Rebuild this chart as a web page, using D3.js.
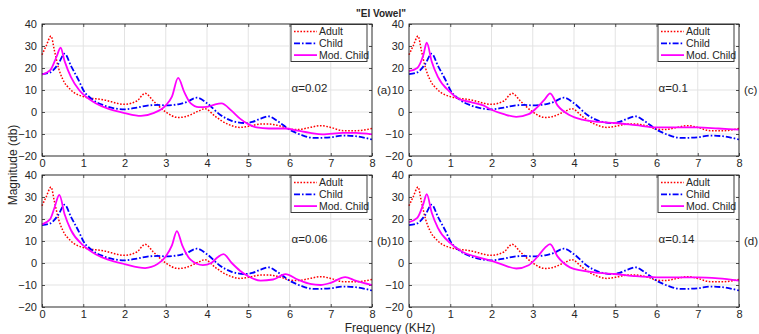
<!DOCTYPE html>
<html>
<head>
<meta charset="utf-8">
<script src="https://cdn.jsdelivr.net/npm/d3@7"></script>
<style>
  body { margin: 0; background: #fff; }
  text { font-family: "Liberation Sans", Arial, sans-serif; fill: #262626; }
  .tick text { font-size: 11px; }
</style>
</head>
<body>
<div id="chart"></div>
<script>
// frequency (KHz), magnitude (db)
const adult = [[0,26],[0.1,30],[0.22,34.5],[0.3,28],[0.4,20],[0.5,15],[0.7,10],[1.0,7],[1.5,5.5],[2.0,3.5],[2.3,5],[2.5,8.5],[2.7,5],[3.0,0],[3.3,-2.5],[3.5,-2],[3.8,0.5],[3.95,1.5],[4.2,-2],[4.5,-5.5],[4.8,-7],[5.0,-6.5],[5.3,-5.5],[5.5,-5.5],[5.8,-6.5],[6.0,-7.8],[6.2,-8],[6.5,-7],[6.75,-6.2],[7.0,-7],[7.3,-8.5],[7.6,-8.5],[8.0,-7.5]];
const child = [[0,17.2],[0.2,18],[0.4,22],[0.55,26.5],[0.7,21],[0.9,14],[1.0,10],[1.2,6],[1.5,3],[1.8,1.5],[2.0,1.2],[2.3,2],[2.6,3],[2.8,3.2],[3.0,3],[3.3,3.5],[3.5,4.5],[3.75,6.5],[4.0,4],[4.3,-1],[4.6,-4],[4.9,-5],[5.1,-4.5],[5.3,-3],[5.5,-2],[5.7,-4],[6.0,-8],[6.3,-10.5],[6.6,-11.8],[7.0,-11.5],[7.3,-10.7],[7.6,-11],[8.0,-12.5]];
const modChildA = [[0,17],[0.2,19],[0.35,25],[0.45,29.2],[0.55,23],[0.7,16],[0.9,10],[1.0,8],[1.3,4],[1.6,1.5],[2.0,-0.5],[2.4,-1.8],[2.7,-0.5],[3.0,3],[3.15,7],[3.3,15.5],[3.45,9],[3.6,4],[3.8,2.2],[4.0,2.3],[4.2,3.5],[4.35,3.9],[4.6,0.5],[4.8,-3],[5.0,-5.5],[5.2,-7],[5.5,-7.5],[5.9,-7.5],[6.2,-8.5],[6.5,-9.5],[6.8,-10.2],[7.3,-9.5],[7.6,-9.5],[8.0,-10.2]];
const modChildB = [[0,17.6],[0.2,20],[0.3,25],[0.42,31],[0.55,22],[0.7,15],[1.0,8],[1.3,4],[1.6,1.5],[2.0,-0.5],[2.5,-2.3],[2.8,-0.5],[3.0,3],[3.15,8],[3.27,14.5],[3.4,8],[3.6,1.5],[3.9,-1],[4.1,0],[4.25,2.5],[4.4,4],[4.6,0],[4.8,-3.5],[5.0,-6],[5.3,-8],[5.6,-7.5],[5.9,-5.1],[6.2,-7.5],[6.5,-9.5],[6.75,-10],[7.0,-9],[7.35,-6.4],[7.6,-8],[8.0,-10]];
const modChildC = [[0,18.6],[0.2,20],[0.35,26],[0.43,31.5],[0.55,23],[0.7,16],[1.0,9],[1.2,6],[1.5,4.5],[1.8,3],[2.0,1],[2.3,-1],[2.6,-2.2],[2.9,-1],[3.1,2],[3.3,6],[3.42,8.5],[3.6,3],[3.9,-1.5],[4.2,-3.5],[4.6,-4.5],[5.0,-5],[5.5,-6],[6.0,-7],[6.5,-7],[7.0,-7],[7.5,-7.5],[8.0,-8]];
const modChildD = [[0,18.6],[0.2,20.5],[0.35,27],[0.43,31.3],[0.55,23],[0.7,16],[1.0,9],[1.3,5],[1.6,3],[2.0,1],[2.3,-1],[2.6,-2.5],[2.9,-1],[3.1,2.5],[3.3,7],[3.42,8.6],[3.6,3],[3.9,-2],[4.2,-3.5],[4.6,-4.5],[5.0,-5],[5.5,-6],[6.0,-6.5],[6.5,-6.5],[7.0,-6.5],[7.5,-7],[8.0,-8]];

const panelTags = ['(a)', '(c)', '(b)', '(d)'];
const alphaLabels = ['\u03b1=0.02', '\u03b1=0.1', '\u03b1=0.06', '\u03b1=0.14'];
const modChild = [modChildA, modChildC, modChildB, modChildD];
const seriesNames = ['Adult', 'Child', 'Mod. Child'];
const xTicks = [0, 1, 2, 3, 4, 5, 6, 7, 8];
const yTicks = [-20, -10, 0, 10, 20, 30, 40];

const width = 759;
const height = 334;
const panelW = 330;
const panelH = 132;
const colX = [42, 409];
const rowY = [24, 175];

const styles = [
  {color: '#ff0000', dash: '1.6,1.6', w: 1.5},
  {color: '#0000ff', dash: '6,2,1.6,2', w: 1.8},
  {color: '#ff00ff', dash: null, w: 1.8}
];

const svg = d3.select('#chart').append('svg')
  .attr('width', width)
  .attr('height', height);

const xScale = d3.scaleLinear().domain([0, 8]).range([0, panelW]);
const yScale = d3.scaleLinear().domain([-20, 40]).range([panelH, 0]);
const line = d3.line()
  .x(d => xScale(d[0]))
  .y(d => yScale(d[1]))
  .curve(d3.curveMonotoneX);

panelTags.forEach(function (tag, i) {
  const px = colX[i % 2];
  const py = rowY[Math.floor(i / 2)];
  const g = svg.append('g').attr('transform', `translate(${px},${py})`);

  // grid
  g.selectAll('.gx').data(xTicks).enter().append('line')
    .attr('x1', d => xScale(d)).attr('x2', d => xScale(d))
    .attr('y1', 0).attr('y2', panelH)
    .attr('stroke', '#e3e3e3').attr('stroke-width', 1);
  g.selectAll('.gy').data(yTicks).enter().append('line')
    .attr('x1', 0).attr('x2', panelW)
    .attr('y1', d => yScale(d)).attr('y2', d => yScale(d))
    .attr('stroke', '#e3e3e3').attr('stroke-width', 1);

  const xAxis = d3.axisBottom(xScale).tickValues(xTicks).tickSize(-3).tickPadding(3).tickFormat(d3.format('d'));
  const yAxis = d3.axisLeft(yScale).tickValues(yTicks).tickSize(-3).tickPadding(5).tickFormat(d3.format('d'));
  g.append('g').attr('transform', `translate(0,${panelH})`).call(xAxis);
  g.append('g').call(yAxis);
  g.append('g').call(d3.axisTop(xScale).tickValues(xTicks).tickSize(-3).tickFormat(''));
  g.append('g').attr('transform', `translate(${panelW},0)`)
    .call(d3.axisRight(yScale).tickValues(yTicks).tickSize(-3).tickFormat(''));
  g.selectAll('.domain').remove();
  g.selectAll('.tick line').attr('stroke', '#262626').attr('stroke-width', 0.8);

  const sets = [adult, child, modChild[i]];
  sets.forEach(function (data, k) {
    g.append('path')
      .datum(data)
      .attr('d', line)
      .attr('fill', 'none')
      .attr('stroke', styles[k].color)
      .attr('stroke-width', styles[k].w)
      .attr('stroke-dasharray', styles[k].dash);
  });

  g.append('rect')
    .attr('width', panelW).attr('height', panelH)
    .attr('fill', 'none').attr('stroke', '#262626').attr('stroke-width', 0.9);

  // legend
  const lw = 76, lh = 37;
  const lg = g.append('g').attr('transform', `translate(${panelW - lw - 5},0.5)`);
  lg.append('rect').attr('width', lw).attr('height', lh)
    .attr('fill', '#fff').attr('stroke', '#262626').attr('stroke-width', 0.9);
  seriesNames.forEach(function (name, k) {
    const yy = 7 + k * 11.8;
    lg.append('line')
      .attr('x1', 3).attr('x2', 26).attr('y1', yy).attr('y2', yy)
      .attr('stroke', styles[k].color)
      .attr('stroke-width', styles[k].w)
      .attr('stroke-dasharray', styles[k].dash);
    lg.append('text').attr('x', 28).attr('y', yy + 3.8)
      .style('font-size', '10.5px').text(name);
  });

  g.append('text')
    .attr('x', xScale(6.05)).attr('y', yScale(11) + 4)
    .style('font-size', '11.5px')
    .text(alphaLabels[i]);

  g.append('text')
    .attr('x', panelW + 5).attr('y', yScale(10) + 4)
    .style('font-size', '11.5px')
    .text(tag);
});

svg.append('text')
  .attr('x', 381).attr('y', 17)
  .attr('text-anchor', 'middle')
  .style('font-size', '10px').style('font-weight', 'bold')
  .text('"EI Vowel"');

svg.append('text')
  .attr('x', 390).attr('y', 332)
  .attr('text-anchor', 'middle')
  .style('font-size', '12px')
  .text('Frequency (KHz)');

svg.append('text')
  .attr('transform', 'translate(17,165) rotate(-90)')
  .attr('text-anchor', 'middle')
  .style('font-size', '12px')
  .text('Magnitude (db)');
</script>
</body>
</html>
